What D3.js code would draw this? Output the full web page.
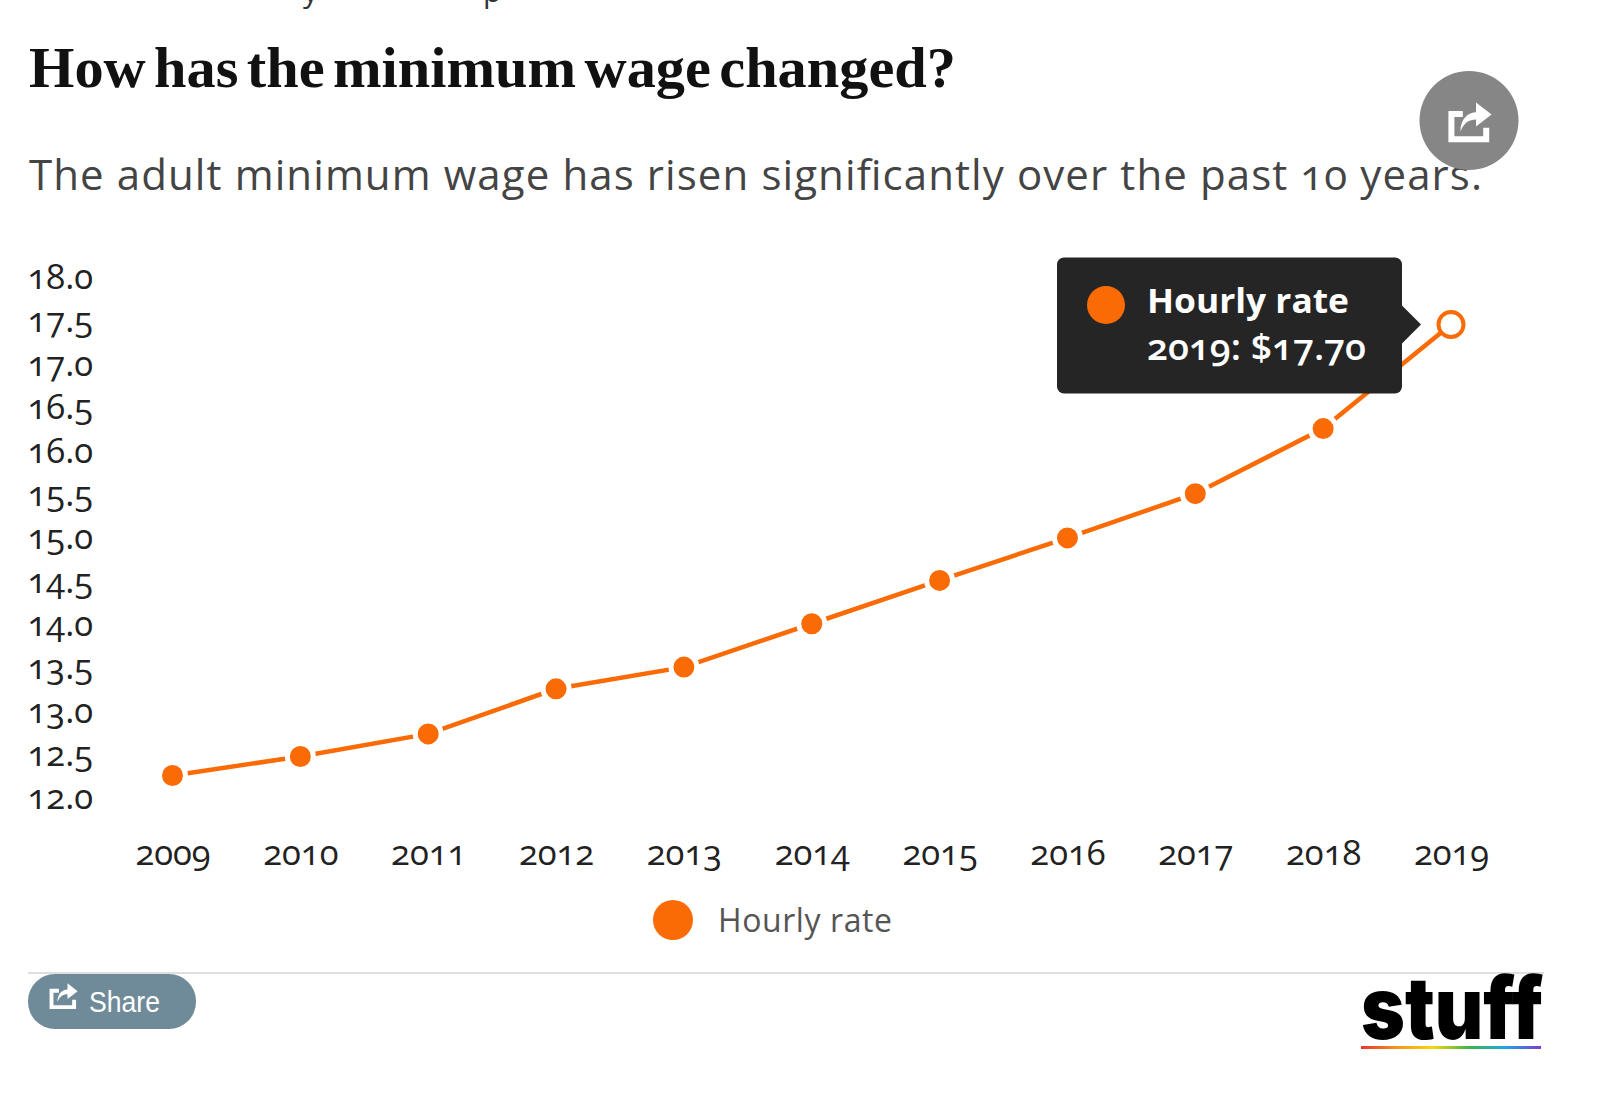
<!DOCTYPE html>
<html>
<head>
<meta charset="utf-8">
<script src="https://cdn.jsdelivr.net/npm/d3@7"></script>
<style>
	body { margin: 0; background: #fff; }
	svg { display: block; }
	text { font-family: "Open Sans", sans-serif; }
	.num { font-variant-numeric: oldstyle-nums; font-feature-settings: "onum"; }
</style>
</head>
<body>
<script>
let years = [2009, 2010, 2011, 2012, 2013, 2014, 2015, 2016, 2017, 2018, 2019]
let hourlyRate = [12.5, 12.72, 12.98, 13.5, 13.75, 14.25, 14.75, 15.24, 15.75, 16.5, 17.7]
let yTicks = [12, 12.5, 13, 13.5, 14, 14.5, 15, 15.5, 16, 16.5, 17, 17.5, 18]
let seriesName = 'Hourly rate'
let orange = '#fa6b05'

let svg = d3.select('body').append('svg').attr('width', 1600).attr('height', 1093)

// leftovers of the line above the chart, cut off by the screenshot
svg.append('text').attr('x', 303).attr('y', 2).attr('font-size', 30).attr('fill', '#333').text('y')
svg.append('text').attr('x', 483).attr('y', 2).attr('font-size', 30).attr('fill', '#333').text('p')

svg.append('text')
	.attr('x', 29).attr('y', 87)
	.attr('font-size', 56).attr('font-weight', 700).attr('fill', '#111')
	.style('font-family', '"Liberation Serif", serif')
	.style('word-spacing', '-6px')
	.attr('textLength', 927).attr('lengthAdjust', 'spacingAndGlyphs')
	.text('How has the minimum wage changed?')

svg.append('text')
	.attr('class', 'num')
	.attr('x', 29).attr('y', 190)
	.attr('font-size', 42).attr('fill', '#444')
	.attr('textLength', 1453).attr('lengthAdjust', 'spacing')
	.text('The adult minimum wage has risen significantly over the past 10 years.')

let x = d3.scalePoint().domain(years).range([172.5, 1451])
let y = d3.scaleLinear().domain([12, 18]).range([818.9, 298.5])

let yAxis = d3.axisLeft(y).tickValues(yTicks).tickSize(0).tickFormat(d3.format('.1f'))
let xAxis = d3.axisBottom(x).tickSize(0).tickFormat(d3.format('d'))

let gy = svg.append('g').attr('transform', 'translate(93,-21)').call(yAxis)
let gx = svg.append('g').attr('transform', 'translate(0,837)').call(xAxis)
gy.select('.domain').remove()
gx.select('.domain').remove()
svg.selectAll('.tick text')
	.attr('class', 'num')
	.style('font-family', '"Open Sans", sans-serif')
	.style('font-size', '34.5px')
	.attr('fill', '#222')
gy.selectAll('.tick text').attr('x', 0)

let rows = years.map((yr, i) => ({yr: yr, v: hourlyRate[i]}))
let line = d3.line().x(d => x(d.yr)).y(d => y(d.v))

svg.append('path')
	.datum(rows)
	.attr('d', line)
	.attr('fill', 'none')
	.attr('stroke', orange)
	.attr('stroke-width', 4.5)

let last = rows.length - 1
svg.selectAll('circle.pt')
	.data(rows)
	.join('circle')
	.attr('class', 'pt')
	.attr('cx', d => x(d.yr))
	.attr('cy', d => y(d.v))
	.attr('r', (d, i) => i == last ? 12.5 : 13)
	.attr('fill', (d, i) => i == last ? '#fff' : orange)
	.attr('stroke', (d, i) => i == last ? orange : '#fff')
	.attr('stroke-width', (d, i) => i == last ? 4 : 5)

// tooltip, sits on top of the line
let tip = svg.append('g')
let tipY = y(hourlyRate[last])
tip.append('rect')
	.attr('x', 1057).attr('y', 257.5).attr('width', 345).attr('height', 136)
	.attr('rx', 7).attr('fill', '#252525')
tip.append('path')
	.attr('d', `M1401,${tipY - 20} L1421,${tipY} L1401,${tipY + 20} Z`)
	.attr('fill', '#252525')
tip.append('circle')
	.attr('cx', 1106).attr('cy', 305).attr('r', 19).attr('fill', orange)
tip.append('text')
	.attr('x', 1147).attr('y', 313)
	.attr('font-size', 34).attr('font-weight', 700).attr('fill', '#fff')
	.attr('textLength', 202).attr('lengthAdjust', 'spacingAndGlyphs')
	.text(seriesName)
tip.append('text')
	.attr('class', 'num')
	.attr('x', 1147).attr('y', 360)
	.attr('font-size', 36).attr('font-weight', 600).attr('fill', '#fff')
	.attr('textLength', 219).attr('lengthAdjust', 'spacingAndGlyphs')
	.text(`${years[last]}: $${hourlyRate[last].toFixed(2)}`)

// legend
svg.append('circle').attr('cx', 673).attr('cy', 920).attr('r', 20).attr('fill', orange)
svg.append('text')
	.attr('x', 718).attr('y', 932)
	.attr('font-size', 32).attr('fill', '#555')
	.attr('textLength', 174).attr('lengthAdjust', 'spacing')
	.text(seriesName)

// round share button, drawn over the subtitle
let shareIcon = 'M2,10 H14 V15 H7 V31 H31 V24 H36 V36 H2 Z M12,27 C12,16 19,11 25,11 V3 L38,13 L25,23 V17 C19,17 15,20 12,27 Z'
svg.append('circle')
	.attr('cx', 1469).attr('cy', 120.5).attr('r', 49.5)
	.attr('fill', '#868686')
svg.append('path')
	.attr('d', shareIcon)
	.attr('transform', 'translate(1446,99) scale(1.2)')
	.attr('fill', '#fff')

svg.append('line')
	.attr('x1', 28).attr('x2', 1544)
	.attr('y1', 973).attr('y2', 973)
	.attr('stroke', '#d4d4d4').attr('stroke-width', 1.5)

// footer: share pill and logo
svg.append('rect')
	.attr('x', 28).attr('y', 974).attr('width', 168).attr('height', 55)
	.attr('rx', 27).attr('fill', '#6f8a99')
svg.append('path')
	.attr('d', shareIcon)
	.attr('transform', 'translate(48,981) scale(0.78)')
	.attr('fill', '#fff')
svg.append('text')
	.attr('x', 89).attr('y', 1012)
	.attr('font-size', 30).attr('fill', '#fff')
	.style('font-family', '"Liberation Sans", sans-serif')
	.attr('textLength', 71).attr('lengthAdjust', 'spacingAndGlyphs')
	.text('Share')

svg.append('text')
	.attr('x', 1361).attr('y', 1039)
	.attr('font-size', 86).attr('font-weight', 900)
	.attr('fill', '#000')
	.style('font-family', 'Inter, sans-serif')
	.attr('textLength', 182).attr('lengthAdjust', 'spacingAndGlyphs')
	.text('stuff')

let rainbow = svg.append('defs').append('linearGradient').attr('id', 'rainbow')
let rainbowStops = ['#e8372c', '#f7941d', '#f5d90a', '#3cb54a', '#1fa8e0', '#7a3fd0']
rainbow.selectAll('stop')
	.data(rainbowStops)
	.join('stop')
	.attr('offset', (d, i) => i / (rainbowStops.length - 1))
	.attr('stop-color', d => d)
svg.append('rect')
	.attr('x', 1361).attr('y', 1046).attr('width', 180).attr('height', 3)
	.attr('fill', 'url(#rainbow)')
</script>
</body>
</html>
